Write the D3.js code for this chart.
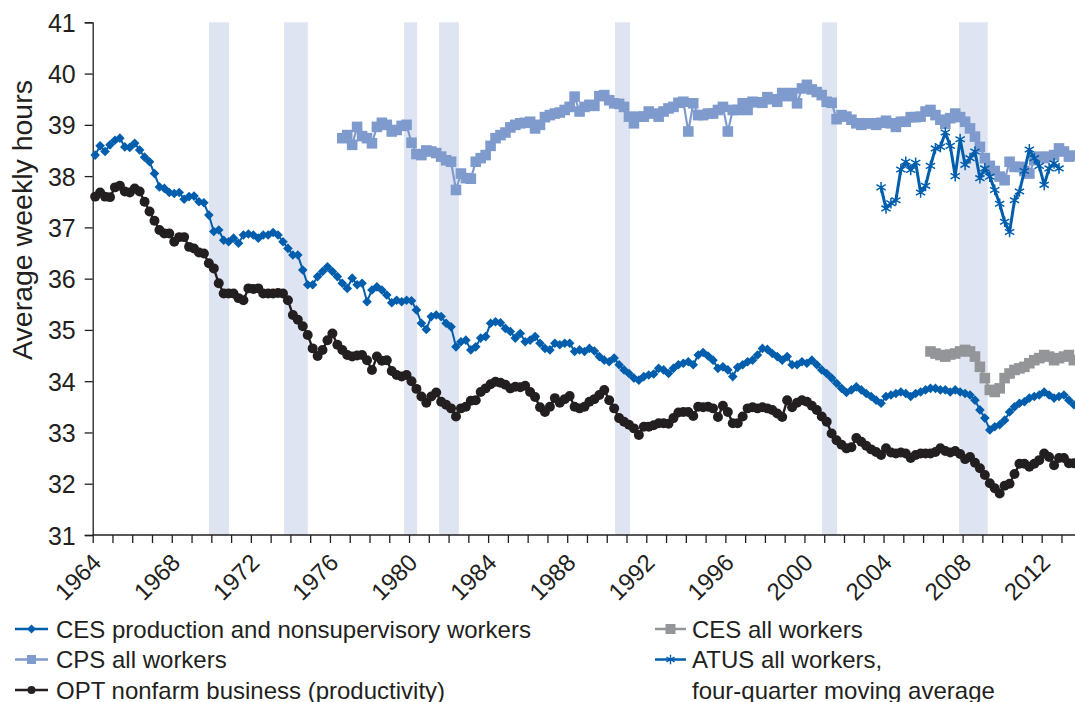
<!DOCTYPE html>
<html><head><meta charset="utf-8">
<script src="https://cdn.jsdelivr.net/npm/d3@7"></script>
<style>
body{margin:0;background:#fff}
svg{display:block}
text{font-family:"Liberation Sans",Arial,sans-serif;fill:#231f20}
</style>
</head><body>
<svg id="chart" width="1075" height="702"></svg>
<script>
// ---------------- data ----------------
const yTicks = [31, 32, 33, 34, 35, 36, 37, 38, 39, 40, 41];
const xTickYears = d3.range(1964, 2014);
const xLabelYears = [1964, 1968, 1972, 1976, 1980, 1984, 1988, 1992, 1996, 2000, 2004, 2008, 2012];

// recession shading (start, end) in decimal years
const recessionStart = [1969.88, 1973.68, 1979.75, 1981.52, 1990.42, 2000.89, 2007.82];
const recessionEnd   = [1970.89, 1974.88, 1980.41, 1982.52, 1991.18, 2001.65, 2009.27];

// quarterly series; start given as [year, quarter]; points sit mid-quarter
const cesProdStart = [1964, 1];
const cesProd = [
38.41,38.59,38.48,38.61,38.70,38.74,38.57,38.56,38.64,38.51,38.37,38.28,38.05,37.79,37.76,37.68,
37.66,37.68,37.55,37.60,37.61,37.50,37.48,37.24,36.92,36.95,36.75,36.72,36.79,36.69,36.85,36.87,
36.85,36.79,36.85,36.85,36.90,36.85,36.72,36.59,36.46,36.46,36.17,35.88,35.88,36.04,36.14,36.23,
36.14,36.04,35.91,35.81,36.01,35.88,35.91,35.55,35.78,35.84,35.78,35.68,35.53,35.58,35.55,
35.58,35.57,35.39,35.13,35.01,35.26,35.29,35.26,35.13,35.06,34.67,34.77,34.80,34.61,34.67,34.84,
34.87,35.13,35.16,35.14,35.03,34.97,34.84,34.93,34.77,34.80,34.87,34.74,34.64,34.61,34.74,34.71,
34.74,34.74,34.58,34.61,34.58,34.64,34.59,34.48,34.41,34.38,34.45,34.32,34.22,34.15,34.06,34.02,
34.09,34.12,34.14,34.25,34.22,34.15,34.25,34.32,34.35,34.38,34.32,34.51,34.56,34.49,34.41,34.25,
34.28,34.22,34.09,34.27,34.32,34.38,34.41,34.51,34.64,
34.62,34.54,34.48,34.41,34.48,34.32,34.32,34.38,34.35,34.41,34.32,34.22,34.15,34.06,33.96,33.86,
33.78,33.83,33.89,33.83,33.76,33.70,33.63,33.57,33.70,33.73,33.76,33.79,33.76,33.70,33.76,33.79,
33.83,33.86,33.86,33.83,33.83,33.79,33.83,33.79,33.76,33.73,33.63,33.44,33.28,33.05,33.11,33.15,
33.24,33.40,33.50,33.57,33.60,33.67,33.70,33.73,33.79,33.73,33.67,33.70,33.73,33.63,33.54
];

const cpsStart = [1976, 3];
const cps = [
38.74,38.80,38.61,38.96,38.78,38.74,38.64,38.96,39.04,39.00,38.87,38.90,38.98,39.00,38.65,38.43,
38.41,38.50,38.48,38.45,38.38,38.31,38.28,37.73,38.05,37.96,37.95,38.28,38.35,38.41,38.59,38.74,
38.80,38.85,38.95,39.00,39.03,39.04,39.06,38.93,39.00,39.15,39.19,39.22,39.24,39.29,39.35,39.55,
39.26,39.35,39.39,39.37,39.56,39.58,39.48,39.42,39.41,39.35,39.16,39.03,39.16,39.16,39.26,39.22,
39.16,39.26,39.32,39.35,39.43,39.45,38.87,39.42,39.19,39.19,39.22,39.22,39.29,39.35,38.87,39.29,
39.29,39.42,39.29,39.45,39.44,39.43,39.54,39.50,39.45,39.62,39.56,39.62,39.42,39.71,39.78,39.69,
39.64,39.58,39.45,39.43,39.11,39.19,39.16,39.10,39.03,39.00,39.03,39.03,39.00,39.04,39.08,39.03,
38.96,39.06,39.06,39.15,39.15,39.16,39.26,39.29,39.19,39.10,39.02,39.13,39.22,39.15,39.06,38.93,
38.77,38.57,38.35,38.20,38.10,37.99,37.92,38.28,38.18,38.18,38.10,38.05,38.31,38.38,38.35,38.38,
38.41,38.54,38.48,38.38,38.40
];

const optStart = [1964, 1];
const opt = [
37.60,37.68,37.60,37.59,37.78,37.81,37.70,37.68,37.76,37.70,37.50,37.31,37.13,36.95,36.88,36.88,
36.72,36.81,36.81,36.62,36.59,36.51,36.49,36.30,36.20,35.91,35.71,35.71,35.71,35.62,35.58,35.81,
35.80,35.81,35.71,35.71,35.71,35.72,35.71,35.58,35.29,35.20,35.07,34.90,34.64,34.49,34.61,34.80,
34.93,34.71,34.61,34.51,34.48,34.50,34.51,34.41,34.22,34.48,34.40,34.41,34.20,34.12,34.09,
34.12,34.00,33.85,33.70,33.58,
33.70,33.78,33.60,33.54,33.47,33.31,33.47,33.50,33.62,33.63,33.79,33.86,33.94,33.99,33.97,33.93,
33.86,33.89,33.88,33.91,33.79,33.69,33.49,33.40,33.50,33.67,33.58,33.65,33.71,33.50,33.47,33.50,
33.60,33.65,33.73,33.83,33.63,33.47,33.28,33.21,33.15,
33.08,32.95,33.11,33.11,33.14,33.18,33.18,33.17,33.28,33.39,33.40,33.40,33.32,33.50,33.49,33.50,
33.47,33.30,33.52,33.40,33.18,33.18,33.31,33.47,33.49,33.47,33.49,
33.47,33.44,33.37,33.30,33.63,33.49,33.58,33.63,33.60,33.52,33.44,33.31,33.21,32.98,32.85,32.76,
32.69,32.71,32.89,32.82,32.74,32.67,32.62,32.56,32.69,32.61,32.59,32.61,32.59,32.50,32.56,32.59,
32.59,32.59,32.62,32.69,32.64,32.61,32.64,32.58,32.48,32.52,32.41,32.30,32.17,32.01,31.91,31.81,
31.96,32.00,32.19,32.39,32.39,32.33,32.39,32.46,32.59,32.52,32.36,32.50,32.50,32.40,32.40
];

const cesAllStart = [2006, 2];
const cesAll = [
34.58,34.54,34.51,34.48,34.52,34.54,34.58,34.61,34.58,34.48,34.28,34.06,33.83,33.79,33.86,34.06,
34.15,34.22,34.25,34.28,34.35,34.41,34.45,34.51,34.48,34.41,34.45,34.48,34.51,34.41
];

const atusStart = [2003, 4];
const atus = [
37.78,37.37,37.47,37.53,38.13,38.28,38.12,38.26,37.68,37.81,38.20,38.54,38.57,38.85,38.59,38.00,
38.72,38.22,38.35,38.48,37.96,38.15,37.99,37.73,37.46,37.11,36.91,37.53,37.70,38.10,38.52,38.35,
38.20,37.83,38.15,38.25,38.15
];

const legendLeft = ["CES production and nonsupervisory workers", "CPS all workers", "OPT nonfarm business (productivity)"];
const legendRight = ["CES all workers", "ATUS all workers,", "four-quarter moving average"];

// ---------------- chart ----------------
const svg = d3.select("#chart");
const x = d3.scaleLinear().domain([1964, 2013.75]).range([92.7, 1076.3]);
const y = d3.scaleLinear().domain([31, 41]).range([535, 22.3]);

const C = {ces: "#005ead", cps: "#7f9bcd", opt: "#231f20", cesAll: "#939598", atus: "#005ead", band: "#dfe4f2"};

function toPts(start, vals) {
  const t0 = start[0] + (start[1] - 1) / 4 + 0.125;
  return vals.map((v, i) => ({t: t0 + i / 4, v}));
}

// recession bands
svg.append("g").selectAll("rect").data(recessionStart).join("rect")
  .attr("x", (d) => x(d))
  .attr("width", (d, i) => x(recessionEnd[i]) - x(d))
  .attr("y", y(41)).attr("height", y(31) - y(41))
  .attr("fill", C.band);

// axes
const gy = svg.append("g").attr("transform", `translate(${x(1964)},0)`)
  .call(d3.axisLeft(y).tickValues(yTicks).tickSize(8).tickPadding(9).tickFormat(d3.format("d")));
gy.select(".domain").attr("stroke", "#231f20").attr("stroke-width", 1.3);
gy.selectAll(".tick line").attr("stroke", "#231f20").attr("stroke-width", 1.3);
gy.selectAll("text").attr("font-size", 25).attr("fill", "#231f20").attr("dy", "0.36em")
  .style("font-family", "Liberation Sans, Arial, sans-serif");

const gx = svg.append("g").attr("transform", `translate(0,${y(31)})`)
  .call(d3.axisBottom(x).tickValues(xTickYears).tickSize(8).tickFormat(""));
gx.select(".domain").attr("stroke", "#231f20").attr("stroke-width", 1.3).attr("d", `M${x(1964)},0H1075`);
gx.selectAll(".tick line").attr("stroke", "#231f20").attr("stroke-width", 1.3);

svg.append("g").selectAll("text").data(xLabelYears).join("text")
  .attr("transform", (d) => `translate(${x(d) + 10},${y(31) + 29}) rotate(-45)`)
  .attr("text-anchor", "end")
  .attr("font-size", 24)
  .text((d) => d);

svg.append("text")
  .attr("transform", `translate(32,220) rotate(-90)`)
  .attr("text-anchor", "middle")
  .attr("font-size", 28.5)
  .text("Average weekly hours");

// series
const line = d3.line().x((d) => x(d.t)).y((d) => y(d.v));

function drawSeries(pts, color, width, marker) {
  const g = svg.append("g");
  g.append("path").datum(pts).attr("d", line).attr("fill", "none")
    .attr("stroke", color).attr("stroke-width", width).attr("stroke-linejoin", "round");
  marker(g.selectAll(null).data(pts).join("path")
    .attr("transform", (d) => `translate(${x(d.t)},${y(d.v)})`));
}

const diamond = (sel) => sel.attr("d", "M0,-4.8L4.8,0L0,4.8L-4.8,0Z").attr("fill", C.ces);
const squareCps = (sel) => sel.attr("d", "M-5.3,-5.3H5.3V5.3H-5.3Z").attr("fill", C.cps);
const squareGray = (sel) => sel.attr("d", "M-5.3,-5.3H5.3V5.3H-5.3Z").attr("fill", C.cesAll);
const circle = (sel) => sel.attr("d", d3.symbol(d3.symbolCircle, 78)()).attr("fill", C.opt);
const star = (sel) => sel.attr("d", d3.symbol(d3.symbolAsterisk, 80)()).attr("fill", "none")
  .attr("stroke", C.atus).attr("stroke-width", 1.5);

drawSeries(toPts(cpsStart, cps), C.cps, 2.2, squareCps);
drawSeries(toPts(cesAllStart, cesAll), C.cesAll, 2.2, squareGray);
drawSeries(toPts(cesProdStart, cesProd), C.ces, 2, diamond);
drawSeries(toPts(optStart, opt), C.opt, 2.4, circle);
drawSeries(toPts(atusStart, atus), C.atus, 3, star);

// legend
const leg = svg.append("g");
const rowY = [629, 659.5, 690];
const leftSym = [
  (m) => m.attr("d", "M0,-4.5L4.5,0L0,4.5L-4.5,0Z").attr("fill", C.ces),
  (m) => m.attr("d", "M-4.5,-4.5H4.5V4.5H-4.5Z").attr("fill", C.cps),
  (m) => m.attr("d", d3.symbol(d3.symbolCircle, 50)()).attr("fill", C.opt)
];
const leftCol = [C.ces, C.cps, C.opt];
legendLeft.forEach((t, i) => {
  leg.append("line").attr("x1", 15).attr("x2", 48).attr("y1", rowY[i]).attr("y2", rowY[i])
    .attr("stroke", leftCol[i]).attr("stroke-width", 2.5);
  leftSym[i](leg.append("path").attr("transform", `translate(31.5,${rowY[i]})`));
  leg.append("text").attr("x", 56).attr("y", rowY[i] + 8.5).attr("font-size", 24).text(t);
});
const rightSym = [
  (m) => m.attr("d", "M-5,-5H5V5H-5Z").attr("fill", C.cesAll),
  (m) => m.attr("d", d3.symbol(d3.symbolAsterisk, 60)()).attr("fill", "none").attr("stroke", C.atus).attr("stroke-width", 1.4),
  null
];
const rightCol = [C.cesAll, C.atus, null];
legendRight.forEach((t, i) => {
  if (rightSym[i]) {
    leg.append("line").attr("x1", 655).attr("x2", 686).attr("y1", rowY[i]).attr("y2", rowY[i])
      .attr("stroke", rightCol[i]).attr("stroke-width", 2.5);
    rightSym[i](leg.append("path").attr("transform", `translate(670.5,${rowY[i]})`));
  }
  leg.append("text").attr("x", 692).attr("y", rowY[i] + 8.5).attr("font-size", 24).text(t);
});
</script>
</body></html>
